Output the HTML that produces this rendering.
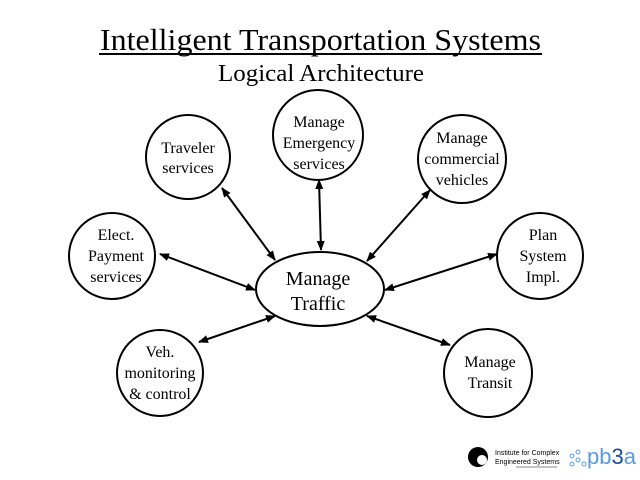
<!DOCTYPE html>
<html><head><style>body{margin:0;background:#fff}svg{display:block}</style></head><body>
<svg width="640" height="480" viewBox="0 0 640 480" font-family="Liberation Serif, serif">
<defs><marker id="a" markerWidth="10" markerHeight="8" refX="9" refY="4" orient="auto-start-reverse" markerUnits="userSpaceOnUse"><path d="M0,0L10,4L0,8z" fill="#000"/></marker></defs>
<text x="100" y="50" font-size="31" textLength="441" lengthAdjust="spacingAndGlyphs">Intelligent Transportation Systems</text>
<line x1="99" y1="54" x2="542" y2="54" stroke="#000" stroke-width="2"/>
<text x="218" y="81" font-size="24" textLength="206" lengthAdjust="spacingAndGlyphs">Logical Architecture</text>
<g fill="#fff" stroke="#000" stroke-width="2">
<circle cx="188" cy="157" r="42"/><circle cx="318" cy="135" r="45"/><circle cx="462" cy="159" r="44"/>
<circle cx="112" cy="256" r="43"/><circle cx="540" cy="256" r="43"/><circle cx="160" cy="373" r="43"/><circle cx="488" cy="373" r="44"/>
<ellipse cx="320" cy="289" rx="64" ry="37"/>
</g>
<g stroke="#000" stroke-width="2" marker-start="url(#a)" marker-end="url(#a)">
<line x1="222" y1="188" x2="275" y2="260"/><line x1="319" y1="180" x2="321" y2="250"/>
<line x1="430" y1="190" x2="367" y2="261"/><line x1="160" y1="254" x2="255" y2="290"/>
<line x1="497" y1="254" x2="385" y2="290"/><line x1="199" y1="342" x2="275" y2="316"/>
<line x1="450" y1="345" x2="367" y2="316"/>
</g>
<g font-size="16" text-anchor="middle">
<text x="188" y="153">Traveler</text><text x="188" y="173">services</text>
<text x="319" y="127">Manage</text><text x="319" y="148">Emergency</text><text x="319" y="169">services</text>
<text x="462" y="143">Manage</text><text x="462" y="164">commercial</text><text x="462" y="185">vehicles</text>
<text x="116" y="240">Elect.</text><text x="116" y="261">Payment</text><text x="116" y="282">services</text>
<text x="543" y="240">Plan</text><text x="543" y="261">System</text><text x="543" y="282">Impl.</text>
<text x="160" y="357">Veh.</text><text x="160" y="378">monitoring</text><text x="160" y="399">&amp; control</text>
<text x="490" y="367">Manage</text><text x="490" y="388">Transit</text>
<text x="318" y="285" font-size="20">Manage</text><text x="318" y="310" font-size="20">Traffic</text>
</g>
<circle cx="478" cy="457" r="10" fill="#000"/><circle cx="482" cy="460" r="5" fill="#fff"/>
<text x="495" y="455" font-family="Liberation Sans, sans-serif" font-size="7">Institute for Complex</text>
<text x="495" y="464" font-family="Liberation Sans, sans-serif" font-size="7">Engineered Systems</text>
<line x1="516" y1="467" x2="557" y2="467" stroke="#888"/>
<g fill="none" stroke="#59f" stroke-width="1"><circle cx="572" cy="456" r="2"/><circle cx="578" cy="452" r="2"/><circle cx="578" cy="460" r="2"/><circle cx="572" cy="464" r="2"/><circle cx="584" cy="464" r="2"/></g>
<text x="587" y="464" font-family="Liberation Sans, sans-serif" font-size="22" fill="#5a9ae0">pb<tspan fill="#1a4a9a">3</tspan>a</text>
</svg>
</body></html>
